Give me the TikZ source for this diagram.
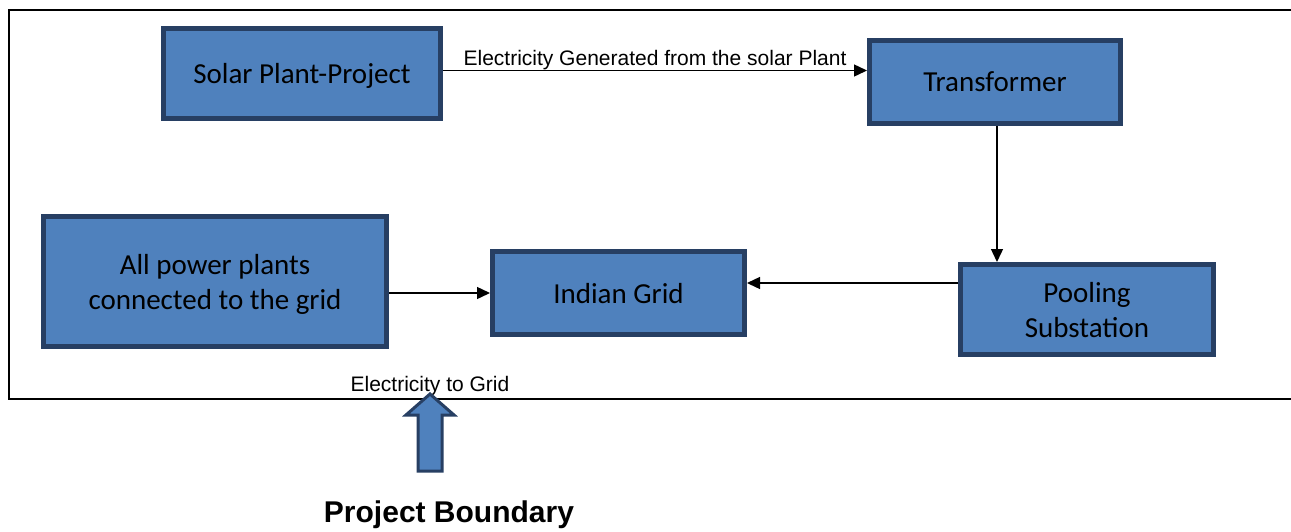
\documentclass[tikz,border=0pt]{standalone}
\usepackage{fontspec}
\setmainfont{Liberation Sans}
\newfontfamily\calfont{Carlito}
\usetikzlibrary{arrows.meta,calc}
\definecolor{boxfill}{HTML}{4F81BD}
\definecolor{boxline}{HTML}{273F63}
\tikzset{
  blockbox/.style={draw=boxline, fill=boxfill, line width=5pt, inner sep=0pt,
    align=center, font=\calfont\fontsize{29}{35}\selectfont, text=black, text depth=0pt},
  conn/.style={line width=1.4pt, -{Triangle[length=13pt,width=12pt]}},
  smalllabel/.style={font=\fontsize{21}{24}\selectfont, inner sep=0pt, anchor=base},
}
\begin{document}
\begin{tikzpicture}[x=1pt,y=-1pt]
\useasboundingbox (0,0) rectangle (1291,531);
% frame
\draw[line width=2.5pt] (1291,10) -- (9,10) -- (9,399) -- (1291,399);
% boxes
\node[blockbox, minimum width=277pt, minimum height=90pt] (solar) at (302,73.5) {Solar Plant-Project};
\node[blockbox, minimum width=251pt, minimum height=83pt] (trans) at (995,82) {Transformer};
\node[blockbox, minimum width=343pt, minimum height=130pt] (allp) at (215,281.5) {All power plants\\connected to the grid};
\node[blockbox, minimum width=252pt, minimum height=83pt] (grid) at (618.5,293) {Indian Grid};
\node[blockbox, minimum width=253pt, minimum height=90pt] (pool) at (1087,309.5) {Pooling\\Substation};
% connectors
\coordinate (sy) at ([yshift=3pt]solar.east);
\draw[conn] (sy) -- (sy -| trans.west);
\coordinate (tx) at ([xshift=2pt]trans.south);
\draw[conn] (tx) -- (tx |- pool.north);
\coordinate (gy) at ([yshift=10pt]grid.east);
\draw[conn] (pool.west |- gy) -- (gy);
\draw[conn] (allp.east |- grid.west) -- (grid.west);
% labels
\node[smalllabel] (lblgen) at (655,65) {Electricity Generated from the solar Plant};
\node[smalllabel] (lblgrid) at (430,391) {Electricity to Grid};
% block arrow
\draw[boxline, fill=boxfill, line width=3pt, line join=miter]
  (430,394) -- (454,415) -- (442,415) -- (442,471) -- (418,471) -- (418,415) -- (406,415) -- cycle;
\node[font=\bfseries\fontsize{30}{34}\selectfont, inner sep=0pt, anchor=base] (pb) at (449,522) {Project Boundary};
\end{tikzpicture}
\end{document}
